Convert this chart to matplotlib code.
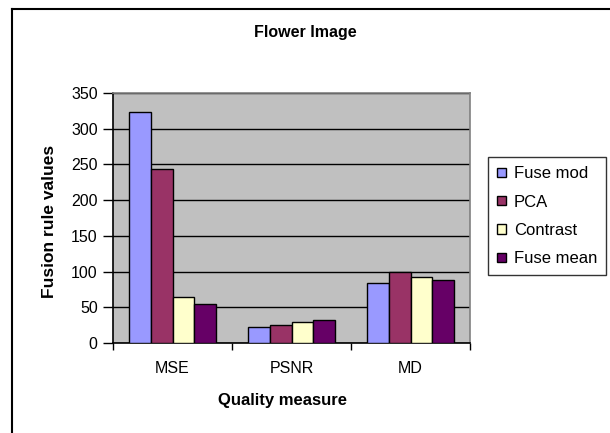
import matplotlib
matplotlib.use("Agg")
import matplotlib.pyplot as plt
from matplotlib.lines import Line2D
import numpy as np

plt.rcParams["font.family"] = ["Liberation Sans", "DejaVu Sans"]

measures = ["MSE", "PSNR", "MD"]
series_names = ["Fuse mod", "PCA", "Contrast", "Fuse mean"]
fuse_mod = [323, 23, 84]
pca = [243, 25, 99]
contrast = [65, 30, 92]
fuse_mean = [54, 32, 88]
series_colors = ["#9999FF", "#993366", "#FFFFCC", "#660066"]
y_ticks = [0, 50, 100, 150, 200, 250, 300, 350]

W, H = 610, 433
fig = plt.figure(figsize=(W / 100, H / 100), dpi=100)
ax = fig.add_axes([113 / W, 1 - 343 / H, 357 / W, 250 / H])
ax.set_facecolor("#C0C0C0")

x = np.arange(len(measures))
width = 1 / (len(series_names) + 1.5)
for i, (name, vals, col) in enumerate(zip(series_names, [fuse_mod, pca, contrast, fuse_mean], series_colors)):
    offs = (i - 1.5) * width
    ax.bar(x + offs, vals, width, color=col, edgecolor="black", linewidth=1.0,
           label=name, zorder=3)

ax.set_xlim(-0.5, 2.5)
ax.set_ylim(0, 350)
ax.set_yticks(y_ticks)
ax.set_yticklabels([str(t) for t in y_ticks], fontsize=11.5)
ax.yaxis.grid(True, color="black", linewidth=1.0, zorder=1)
ax.set_axisbelow(True)

# category ticks sit between the groups, labels at the centres
ax.set_xticks([-0.5, 0.5, 1.5, 2.5])
ax.set_xticklabels([])
ax.set_xticks(x, minor=True)
ax.set_xticklabels(measures, minor=True, fontsize=11.5)
ax.tick_params(axis="x", which="minor", length=0, pad=13)
ax.tick_params(axis="x", which="major", direction="out", length=5, width=1)
ax.tick_params(axis="y", direction="out", length=7, width=1, pad=4)

for side in ["top", "right"]:
    ax.spines[side].set_color("#808080")
    ax.spines[side].set_linewidth(1.2)
for side in ["left", "bottom"]:
    ax.spines[side].set_color("black")
    ax.spines[side].set_linewidth(1.2)

fig.text(50 / W, 1 - 221 / H, "Fusion rule values", rotation=90, ha="center",
         va="center", fontsize=12.5, fontweight="bold")
fig.text(283 / W, 1 - 400 / H, "Quality measure", ha="center", va="center",
         fontsize=12, fontweight="bold")
fig.text(305 / W, 1 - 33 / H, "Flower Image", ha="center", va="center",
         fontsize=11.5, fontweight="bold")

leg = ax.legend(loc="upper left", bbox_to_anchor=(488 / W, 1 - 157 / H),
                bbox_transform=fig.transFigure, frameon=True, fancybox=False,
                fontsize=12, handlelength=0.5, handleheight=0.5,
                handletextpad=0.5, labelspacing=0.8, borderpad=0.55,
                borderaxespad=0)
leg.get_frame().set_edgecolor("black")
leg.get_frame().set_linewidth(1.0)

# chart frame
fig.add_artist(Line2D([12 / W, 12 / W], [0, 1 - 9 / H], color="black", linewidth=1.5))
fig.add_artist(Line2D([12 / W, 1], [1 - 9 / H, 1 - 9 / H], color="black", linewidth=1.5))

fig.savefig("out.png", dpi=100)
